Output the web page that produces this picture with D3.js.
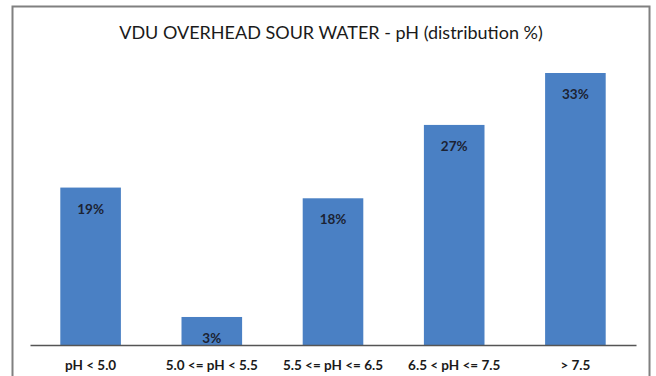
<!DOCTYPE html>
<html>
<head>
<meta charset="utf-8">
<script src="https://cdn.jsdelivr.net/npm/d3@7"></script>
<style>
  body { margin: 0; background: #fff; }
  svg { display: block; font-family: Lato, "Open Sans", sans-serif; }
</style>
</head>
<body>
<div id="chart"></div>
<script>
// chart data
const categories = ["pH < 5.0", "5.0 <= pH < 5.5", "5.5 <= pH <= 6.5", "6.5 < pH <= 7.5", "> 7.5"];
const values = [19.1, 3.4, 17.8, 26.7, 33];
const valueLabels = ["19%", "3%", "18%", "27%", "33%"];
const title = "VDU OVERHEAD SOUR WATER - pH (distribution %)";

const W = 656, H = 376;
const svg = d3.select("#chart").append("svg").attr("width", W).attr("height", H);

// outer frame
svg.append("rect")
    .attr("x", 12.5).attr("y", 6.5).attr("width", 637).attr("height", 380)
    .attr("fill", "#fff").attr("stroke", "#808080").attr("stroke-width", 2);

svg.append("text")
    .attr("x", 331).attr("y", 39)
    .attr("text-anchor", "middle")
    .attr("font-size", 18).attr("fill", "#1a1a1a")
    .text(title);

const x = d3.scaleBand().domain(categories).range([30, 636]).paddingInner(0.5).paddingOuter(0.25);
const y = d3.scaleLinear().domain([0, 33]).range([345, 73]);

svg.selectAll("rect.bar").data(values).join("rect")
    .attr("class", "bar")
    .attr("x", (d, i) => x(categories[i]))
    .attr("y", d => y(d))
    .attr("width", x.bandwidth())
    .attr("height", d => y(0) - y(d))
    .attr("fill", "#4a80c4");

svg.selectAll("text.val").data(values).join("text")
    .attr("class", "val")
    .attr("x", (d, i) => x(categories[i]) + x.bandwidth() / 2)
    .attr("y", d => y(d) + 26)
    .attr("text-anchor", "middle")
    .attr("font-size", 13.5).attr("font-weight", "bold").attr("fill", "#1c2333")
    .text((d, i) => valueLabels[i]);

const axis = svg.append("g").attr("transform", `translate(0,${y(0)})`)
    .call(d3.axisBottom(x).tickSize(0).tickPadding(15));
axis.select(".domain").attr("stroke", "#555").attr("stroke-width", 1.5);
axis.selectAll("text")
    .attr("font-size", 13.5).attr("font-weight", "bold").attr("fill", "#1a1a1a")
    .attr("font-family", "Lato, 'Open Sans', sans-serif");
</script>
</body>
</html>
